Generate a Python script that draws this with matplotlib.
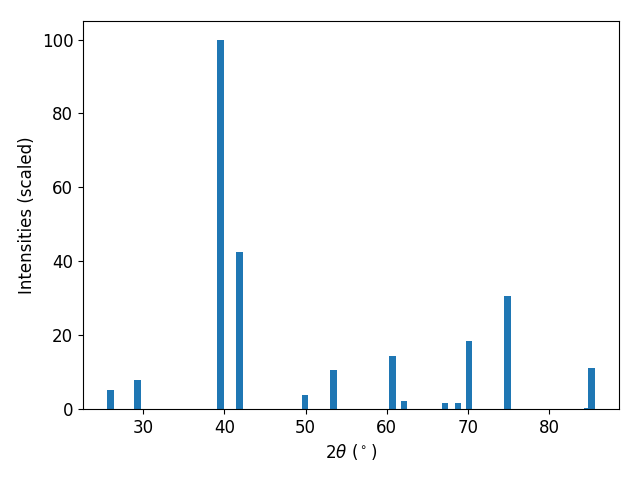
import matplotlib
matplotlib.use("Agg")
import matplotlib.pyplot as plt

two_theta = [25.97, 29.26, 39.52, 41.86, 49.95, 53.44, 60.7, 62.14, 67.2, 68.8, 70.15, 74.87, 84.75, 85.2]
intensity = [5.1, 7.9, 100.0, 42.5, 3.8, 10.6, 14.4, 2.2, 1.6, 1.6, 18.4, 30.6, 0.3, 11.1]

fig, ax = plt.subplots(figsize=(6.4, 4.8), dpi=100)
ax.bar(two_theta, intensity, width=0.8)
ax.set_xlabel(r"2$\theta$ ($^\circ$)", fontsize=12)
ax.set_ylabel("Intensities (scaled)", fontsize=12)
ax.tick_params(labelsize=12)
fig.subplots_adjust(left=0.1297, right=0.967, top=0.956, bottom=0.148)
fig.savefig("out.png")
